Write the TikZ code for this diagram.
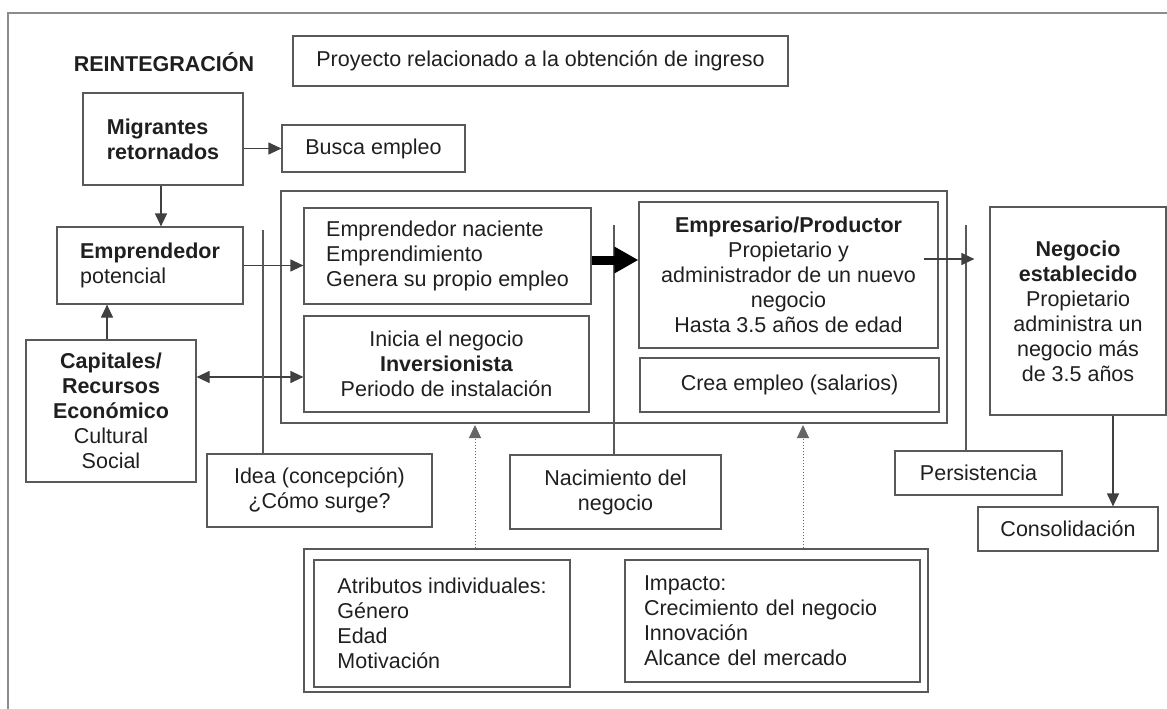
\documentclass[tikz,border=0pt]{standalone}
\usepackage{fontspec}
\setmainfont{Liberation Sans}
\usepackage{tikz}
\usetikzlibrary{arrows.meta,positioning,calc}

\begin{document}
\begin{tikzpicture}[x=1pt, y=-1pt,
  caja/.style={rectangle, draw=black!65, line width=1.2pt, inner sep=0pt, align=center,
    text=black!88, font=\fontsize{21.5}{25}\selectfont},
  cajaizq/.style={caja, align=left},
  flecha/.style={draw=black!75, line width=1.2pt, -{Triangle[length=13pt,width=12pt]}},
  dobleflecha/.style={flecha, {Triangle[length=13pt,width=12pt]}-{Triangle[length=13pt,width=12pt]}},
  gruesa/.style={draw=black, line width=9pt, -{Triangle[length=24pt,width=25pt]}},
  punteada/.style={draw=black!60, line width=1pt, dotted, -{Triangle[length=13pt,width=12pt]}},
  linea/.style={draw=black!65, line width=1.2pt}]
  \useasboundingbox (0,0) rectangle (1167,709);
  % marco exterior
  \draw [draw=black!45, line width=2pt] (8,709) -- (8,13) -- (1167,13);

  \node (reint) [text=black!88, font=\fontsize{21.5}{25}\selectfont\bfseries] at (164,62) {REINTEGRACIÓN};
  \node (proyecto) [caja, minimum width=495pt, minimum height=50pt] at (540.5,61) {Proyecto relacionado a la obtención de ingreso};

  \node (migr) [cajaizq, minimum width=160pt, minimum height=92pt] at (163,139) {\textbf{Migrantes}\\\textbf{retornados}};
  \node (busca) [caja, minimum width=183pt, minimum height=47pt] at (373.5,148.5) {Busca empleo};
  \node (emppot) [cajaizq, minimum width=186pt, minimum height=77pt] at (150,265.5) {\textbf{Emprendedor}\\potencial};
  \node (capital) [caja, minimum width=170pt, minimum height=142pt] at (111,411) {\textbf{Capitales/}\\\textbf{Recursos}\\\textbf{Económico}\\Cultural\\Social};

  % bloque central
  \node (marco) [caja, minimum width=666pt, minimum height=232pt] at (614,307) {};
  \node (naciente) [cajaizq, minimum width=287pt, minimum height=96pt] at (447.5,256) {Emprendedor naciente\\Emprendimiento\\Genera su propio empleo};
  \node (inicia) [caja, minimum width=285pt, minimum height=96pt] at (446.5,364) {Inicia el negocio\\\textbf{Inversionista}\\Periodo de instalación};
  \node (empresario) [caja, minimum width=299pt, minimum height=146pt] at (788.5,275) {\textbf{Empresario/Productor}\\Propietario y\\administrador de un nuevo\\negocio\\Hasta 3.5 años de edad};
  \node (crea) [caja, minimum width=299pt, minimum height=54pt] at (789.5,385) {Crea empleo (salarios)};

  \node (negocio) [caja, minimum width=176pt, minimum height=208pt] at (1078,311) {\textbf{Negocio}\\\textbf{establecido}\\Propietario\\administra un\\negocio más\\de 3.5 años};

  \node (idea) [caja, minimum width=225pt, minimum height=73pt] at (319.5,490.5) {Idea (concepción)\\¿Cómo surge?};
  \node (nacim) [caja, minimum width=211pt, minimum height=74pt] at (615.5,492) {Nacimiento del\\negocio};
  \node (persist) [caja, minimum width=167pt, minimum height=44pt] at (978.5,473) {Persistencia};
  \node (consol) [caja, minimum width=180pt, minimum height=44pt] at (1068,529) {Consolidación};

  % bloque inferior
  \node (atribmarco) [caja, minimum width=624pt, minimum height=143pt] at (616,620.5) {};
  \node (atrib) [cajaizq, minimum width=256pt, minimum height=127pt] at (442,623.5) {Atributos individuales:\\Género\\Edad\\Motivación};
  \node (impacto) [cajaizq, text width=257pt, inner xsep=19pt, minimum height=122pt] at (772.5,621) {Impacto:\\Crecimiento del negocio\\Innovación\\Alcance del mercado};

  \coordinate (ideatop) at (263,230);
  \coordinate (nacimtop) at (614,225);
  \coordinate (persisttop) at (966,225);
  \coordinate (d1) at (475,425);
  \coordinate (d2) at (803,425);

  \draw [flecha] (migr.east |- busca.west) -- (busca.west);
  \draw [flecha] ([xshift=-2pt]migr.south) -- ([xshift=-2pt]migr.south |- emppot.north);
  \draw [flecha] ([xshift=-4pt]capital.north) -- ([xshift=-4pt]capital.north |- emppot.south);
  \draw [flecha] (emppot.east) -- (emppot.east -| naciente.west);
  \draw [dobleflecha] ([yshift=34pt]capital.east) -- ([yshift=34pt]capital.east -| inicia.west);
  \draw [linea] (ideatop) -- (ideatop |- idea.north);
  \draw [linea] (nacimtop) -- (nacimtop |- nacim.north);
  \draw [linea] (persisttop) -- (persisttop |- persist.north);
  \draw [gruesa] ([yshift=-4pt]naciente.east) -- ([yshift=-4pt]naciente.east -| empresario.west);
  \draw [flecha] ([xshift=-15pt,yshift=16pt]empresario.east) -- ([xshift=-15pt,yshift=16pt]empresario.east -| negocio.west);
  \draw [flecha] ([xshift=35pt]negocio.south) -- ([xshift=35pt]negocio.south |- consol.north);
  \draw [punteada] (d1 |- atribmarco.north) -- (d1);
  \draw [punteada] (d2 |- atribmarco.north) -- (d2);
\end{tikzpicture}
\end{document}
